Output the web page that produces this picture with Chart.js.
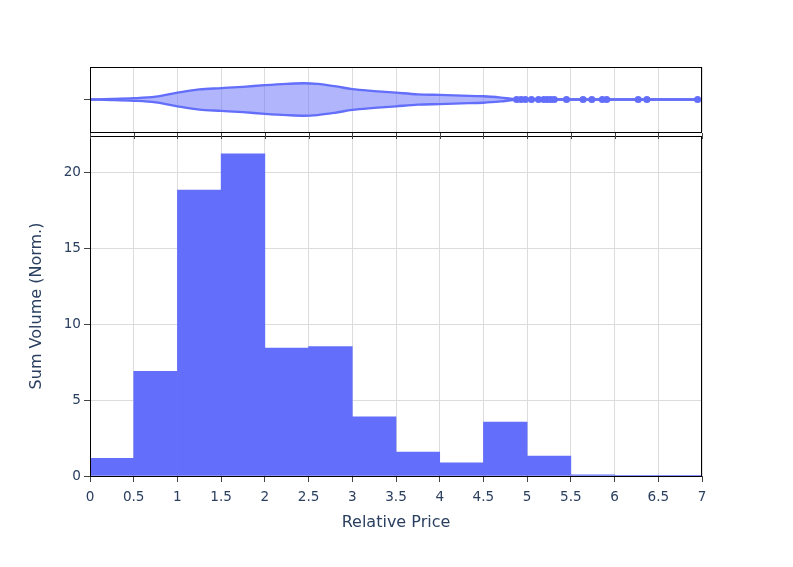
<!DOCTYPE html>
<html>
<head>
<meta charset="utf-8">
<script src="https://cdn.jsdelivr.net/npm/chart.js@4"></script>
<style>
  body { margin: 0; background: #fff; }
  #wrap { position: relative; width: 793px; height: 567px; }
  #wrap canvas { position: absolute; left: 0; top: 0; }
</style>
</head>
<body>
<div id="wrap">
  <canvas id="histChart" width="793" height="567"></canvas>
  <canvas id="violinChart" width="793" height="140"></canvas>
</div>
<script>
// histogram bins (left edge of each bin) and summed normalised volume
const binStarts = [0, 0.5, 1, 1.5, 2, 2.5, 3, 3.5, 4, 4.5, 5, 5.5, 6, 6.5];
const binWidth = 0.5;
const sumVolume = [1.17, 6.9, 18.83, 21.22, 8.42, 8.52, 3.9, 1.57, 0.86, 3.55, 1.31, 0.08, 0.02, 0.02];

// violin outline on top: price and half width (panel half height = 1)
const violinPrice = [0, 0.25, 0.5, 0.75, 1, 1.25, 1.5, 1.75, 2, 2.25, 2.45, 2.6, 2.8, 3, 3.25, 3.5, 3.75, 4, 4.25, 4.5, 4.7, 4.88, 6.95];
const violinHalf = [0, 0.015, 0.04, 0.09, 0.21, 0.31, 0.35, 0.39, 0.44, 0.48, 0.5, 0.48, 0.41, 0.32, 0.26, 0.21, 0.16, 0.14, 0.12, 0.1, 0.06, 0.01, 0];

// outlier points drawn on the violin
const outlierPrice = [4.88, 4.93, 4.98, 5.05, 5.13, 5.19, 5.23, 5.27, 5.31, 5.45, 5.64, 5.74, 5.86, 5.91, 6.27, 6.37, 6.95];

const xTicks = [0, 0.5, 1, 1.5, 2, 2.5, 3, 3.5, 4, 4.5, 5, 5.5, 6, 6.5, 7];
const yTicks = [0, 5, 10, 15, 20];

const textColor = '#2a3f5f';
const fontFamily = 'DejaVu Sans';
const gridColor = '#dcdcdc';
const blue = '#636efa';

// black box round the plot area, with short mirrored ticks along the top of the histogram
function framePlugin(topTicks) {
  return {
    id: 'frame',
    afterDraw(chart) {
      const { ctx, chartArea: a } = chart;
      ctx.save();
      ctx.strokeStyle = '#000';
      ctx.lineWidth = 1;
      ctx.strokeRect(Math.round(a.left) + 0.5, Math.round(a.top) + 0.5,
        Math.round(a.right - a.left) - 1, Math.round(a.bottom - a.top));
      if (topTicks) {
        const xs = chart.scales.x;
        ctx.strokeStyle = '#444';
        ctx.beginPath();
        xTicks.forEach(v => {
          const px = Math.round(xs.getPixelForValue(v)) + 0.5;
          ctx.moveTo(px, a.top - 3);
          ctx.lineTo(px, a.top + 3);
        });
        ctx.stroke();
      }
      ctx.restore();
    }
  };
}

new Chart(document.getElementById('histChart'), {
  type: 'bar',
  data: {
    datasets: [{
      data: binStarts.map((s, i) => ({ x: s + binWidth / 2, y: sumVolume[i] })),
      backgroundColor: blue,
      borderWidth: 0,
      barPercentage: 1,
      categoryPercentage: 1
    }]
  },
  options: {
    responsive: false,
    animation: false,
    layout: { padding: { left: 23, right: 91, top: 136, bottom: 31 } },
    plugins: { legend: { display: false }, tooltip: { enabled: false } },
    scales: {
      x: {
        type: 'linear',
        min: 0,
        max: 7,
        offset: false,
        afterBuildTicks: s => { s.ticks = xTicks.map(v => ({ value: v })); },
        afterFit: s => { s.height = 60; },
        grid: { color: gridColor, tickColor: '#444', tickLength: 6, offset: false },
        border: { display: false },
        ticks: {
          color: textColor, font: { family: fontFamily, size: 13.6 }, padding: 7,
          maxRotation: 0, autoSkip: false, callback: v => String(v)
        },
        title: { display: true, text: 'Relative Price', color: textColor, font: { family: fontFamily, size: 16 } }
      },
      y: {
        min: 0,
        max: 22.4,
        afterBuildTicks: s => { s.ticks = yTicks.map(v => ({ value: v })); },
        afterFit: s => { s.width = 67; },
        grid: { color: gridColor, tickColor: '#444', tickLength: 6 },
        border: { display: false },
        ticks: { color: textColor, font: { family: fontFamily, size: 13.6 }, padding: 3, callback: v => String(v) },
        title: { display: true, text: 'Sum Volume (Norm.)', color: textColor, font: { family: fontFamily, size: 16 } }
      }
    }
  },
  plugins: [framePlugin(true)]
});

new Chart(document.getElementById('violinChart'), {
  type: 'line',
  data: {
    datasets: [
      {
        data: violinPrice.map((p, i) => ({ x: p, y: violinHalf[i] })),
        borderColor: blue, borderWidth: 2.3, pointRadius: 0, fill: false,
        cubicInterpolationMode: 'monotone'
      },
      {
        data: violinPrice.map((p, i) => ({ x: p, y: -violinHalf[i] })),
        borderColor: blue, borderWidth: 2.3, pointRadius: 0, fill: '-1',
        backgroundColor: 'rgba(99,110,250,0.5)',
        cubicInterpolationMode: 'monotone'
      },
      {
        type: 'scatter',
        data: outlierPrice.map(p => ({ x: p, y: 0 })),
        pointRadius: 3.6, backgroundColor: blue, borderWidth: 0
      }
    ]
  },
  options: {
    responsive: false,
    animation: false,
    layout: { padding: { left: 23, right: 91, top: 67, bottom: 8 } },
    plugins: { legend: { display: false }, tooltip: { enabled: false } },
    scales: {
      x: {
        type: 'linear',
        min: 0,
        max: 7,
        afterBuildTicks: s => { s.ticks = xTicks.map(v => ({ value: v })); },
        afterFit: s => { s.height = 0; },
        grid: { color: gridColor, drawTicks: false },
        border: { display: false },
        ticks: { display: false }
      },
      y: {
        min: -1,
        max: 1,
        afterBuildTicks: s => { s.ticks = [{ value: 0 }]; },
        afterFit: s => { s.width = 67; },
        grid: { drawOnChartArea: false, tickColor: '#444', tickLength: 6 },
        border: { display: false },
        ticks: { display: false }
      }
    }
  },
  plugins: [framePlugin(false)]
});
</script>
</body>
</html>
